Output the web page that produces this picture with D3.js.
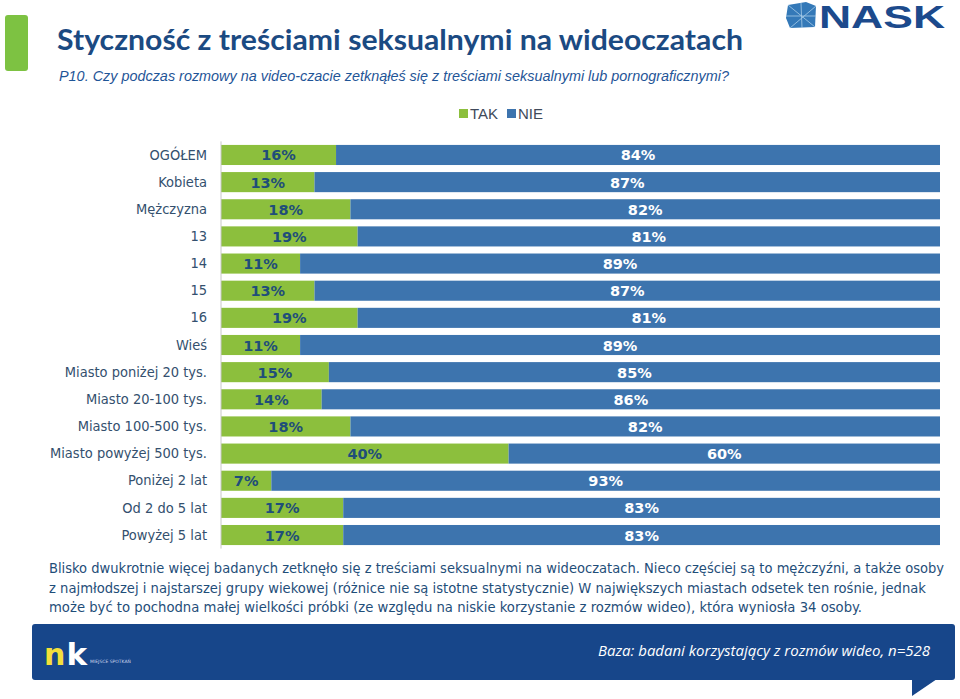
<!DOCTYPE html>
<html><head><meta charset="utf-8">
<script src="https://cdn.jsdelivr.net/npm/d3@7"></script>
<style>html,body{margin:0;padding:0;background:#fff;}svg{display:block;}</style>
</head><body>
<svg id="c" width="960" height="699"></svg>
<script>
const categories = ["OGÓŁEM","Kobieta","Mężczyzna","13","14","15","16","Wieś","Miasto poniżej 20 tys.","Miasto 20-100 tys.","Miasto 100-500 tys.","Miasto powyżej 500 tys.","Poniżej 2 lat","Od 2 do 5 lat","Powyżej 5 lat"];
const tak = [16,13,18,19,11,13,19,11,15,14,18,40,7,17,17];
const nie = [84,87,82,81,89,87,81,89,85,86,82,60,93,83,83];
const seriesNames = ["TAK","NIE"];
const title = "Styczność z treściami seksualnymi na wideoczatach";
const subtitle = "P10. Czy podczas rozmowy na video-czacie zetknąłeś się z treściami seksualnymi lub pornograficznymi?";
const noteLines = [
 "Blisko dwukrotnie więcej badanych zetknęło się z treściami seksualnymi na wideoczatach. Nieco częściej są to mężczyźni, a także osoby",
 "z najmłodszej i najstarszej grupy wiekowej (różnice nie są istotne statystycznie) W największych miastach odsetek ten rośnie, jednak",
 "może być to pochodna małej wielkości próbki (ze względu na niskie korzystanie z rozmów wideo), która wyniosła 34 osoby."
];
const baseText = "Baza:  badani korzystający z rozmów wideo, n=528";

const GREEN = "#8cbf3d", BLUE = "#3d74ae", DARK = "#1f4e79";
const svg = d3.select("#c");

// top-left accent
svg.append("rect").attr("x",5).attr("y",15).attr("width",23).attr("height",56).attr("rx",3).attr("fill","#7dc242");
// title
svg.append("text").attr("x",57).attr("y",50).attr("font-family","Lato, 'Open Sans', sans-serif").attr("font-weight","bold")
  .attr("font-size",29).attr("fill","#1b4a82").attr("textLength",686).attr("lengthAdjust","spacingAndGlyphs").text(title);
svg.append("text").attr("x",59).attr("y",81).attr("font-family","'Liberation Sans', Arial, sans-serif").attr("font-style","italic")
  .attr("font-size",15).attr("fill","#1f5597").attr("textLength",670).attr("lengthAdjust","spacingAndGlyphs").text(subtitle);

// NASK logo
const logo = svg.append("g");
logo.append("path").attr("d","M788,5 L806,2 L816,6 L815,27 L790,28 L786,18 Z").attr("fill","#3479b8");
logo.append("path").attr("d","M788,5 L815,27 M816,6 L790,28 M801,3 L802,28 M786,16 L816,16").attr("stroke","#a8cde8").attr("stroke-width",0.8).attr("fill","none");
logo.append("text").attr("x",819).attr("y",28).attr("font-family","'Liberation Sans', Arial, sans-serif").attr("font-weight","900")
  .attr("font-size",31).attr("fill","#1c4a8c").attr("textLength",126).attr("lengthAdjust","spacingAndGlyphs").text("NASK");

// legend
const legend = svg.append("g");
[[GREEN,459,470],[BLUE,507,518]].forEach((d,i)=>{
  legend.append("rect").attr("x",d[1]).attr("y",109).attr("width",9).attr("height",9).attr("fill",d[0]);
  legend.append("text").attr("x",d[2]).attr("y",119).attr("font-family","'Liberation Sans', Arial, sans-serif")
    .attr("font-size",15).attr("fill","#404a5a").text(seriesNames[i]);
});

// scales
const x = d3.scaleLinear().domain([0,100]).range([221,940]);
const y = d3.scaleBand().domain(categories).range([141.4,548.6]).paddingInner(0.26).paddingOuter(0.13);

const rows = categories.map((c,i)=>({c, t:tak[i], n:nie[i]}));
const g = svg.append("g");
g.selectAll("rect.tak").data(rows).join("rect").attr("class","tak")
  .attr("x",x(0)).attr("y",d=>y(d.c)).attr("width",d=>x(d.t)-x(0)).attr("height",y.bandwidth()).attr("fill",GREEN);
g.selectAll("rect.nie").data(rows).join("rect").attr("class","nie")
  .attr("x",d=>x(d.t)).attr("y",d=>y(d.c)).attr("width",d=>x(d.t+d.n)-x(d.t)).attr("height",y.bandwidth()).attr("fill",BLUE);

g.selectAll("text.lt").data(rows).join("text").attr("class","lt")
  .attr("x",d=>(x(0)+x(d.t))/2).attr("y",d=>y(d.c)+y.bandwidth()/2+5.5).attr("text-anchor","middle")
  .attr("font-family","'DejaVu Sans', Verdana, sans-serif").attr("font-weight","bold").attr("font-size",14.5).attr("fill",DARK)
  .text(d=>d.t+"%");
g.selectAll("text.ln").data(rows).join("text").attr("class","ln")
  .attr("x",d=>(x(d.t)+x(d.t+d.n))/2).attr("y",d=>y(d.c)+y.bandwidth()/2+5.5).attr("text-anchor","middle")
  .attr("font-family","'DejaVu Sans', Verdana, sans-serif").attr("font-weight","bold").attr("font-size",14.5).attr("fill","#ffffff")
  .text(d=>d.n+"%");

// axis
const yAxis = d3.axisLeft(y).tickSize(0).tickPadding(14);
const ax = svg.append("g").attr("transform","translate(221,0)").call(yAxis);
ax.select(".domain").attr("stroke","#c8c8c8").attr("d","M0,141.4V548.6");
ax.selectAll("text").attr("font-family","'DejaVu Sans Condensed','DejaVu Sans', Verdana, sans-serif").attr("font-weight","normal")
  .attr("font-size",14.5).attr("fill","#34506e");

// note
const note = svg.append("g");
const noteW = [895,877,813];
noteLines.forEach((l,i)=>{
  note.append("text").attr("x",49).attr("y",573+i*19.5).attr("font-family","'DejaVu Sans Condensed','DejaVu Sans', Verdana, sans-serif")
    .attr("font-size",14.5).attr("fill","#1f4e79").attr("textLength",noteW[i]).attr("lengthAdjust","spacingAndGlyphs").text(l);
});

// footer banner
const foot = svg.append("g");
foot.append("rect").attr("x",32).attr("y",624).attr("width",923).attr("height",56).attr("rx",3).attr("fill","#17468a");
foot.append("path").attr("d","M912,679 L937,679 L912,696 Z").attr("fill","#17468a");
foot.append("text").attr("x",44).attr("y",665).attr("font-family","'DejaVu Sans', sans-serif").attr("font-weight","bold")
  .attr("font-size",30).attr("fill","#f3e03b").text("n");
foot.append("text").attr("x",66.5).attr("y",665).attr("font-family","'DejaVu Sans', sans-serif").attr("font-weight","bold")
  .attr("font-size",31).attr("fill","#ffffff").text("k");
foot.append("text").attr("x",90).attr("y",663).attr("font-family","'DejaVu Sans', sans-serif").attr("font-size",4.5)
  .attr("fill","#c8d4ea").text("MIEJSCE SPOTKAŃ");
foot.append("text").attr("x",598).attr("y",656).attr("font-family","'Open Sans', 'Liberation Sans', sans-serif").attr("font-style","italic")
  .attr("font-size",15).attr("fill","#ffffff").attr("textLength",332).attr("lengthAdjust","spacingAndGlyphs").text(baseText);
</script>
</body></html>
